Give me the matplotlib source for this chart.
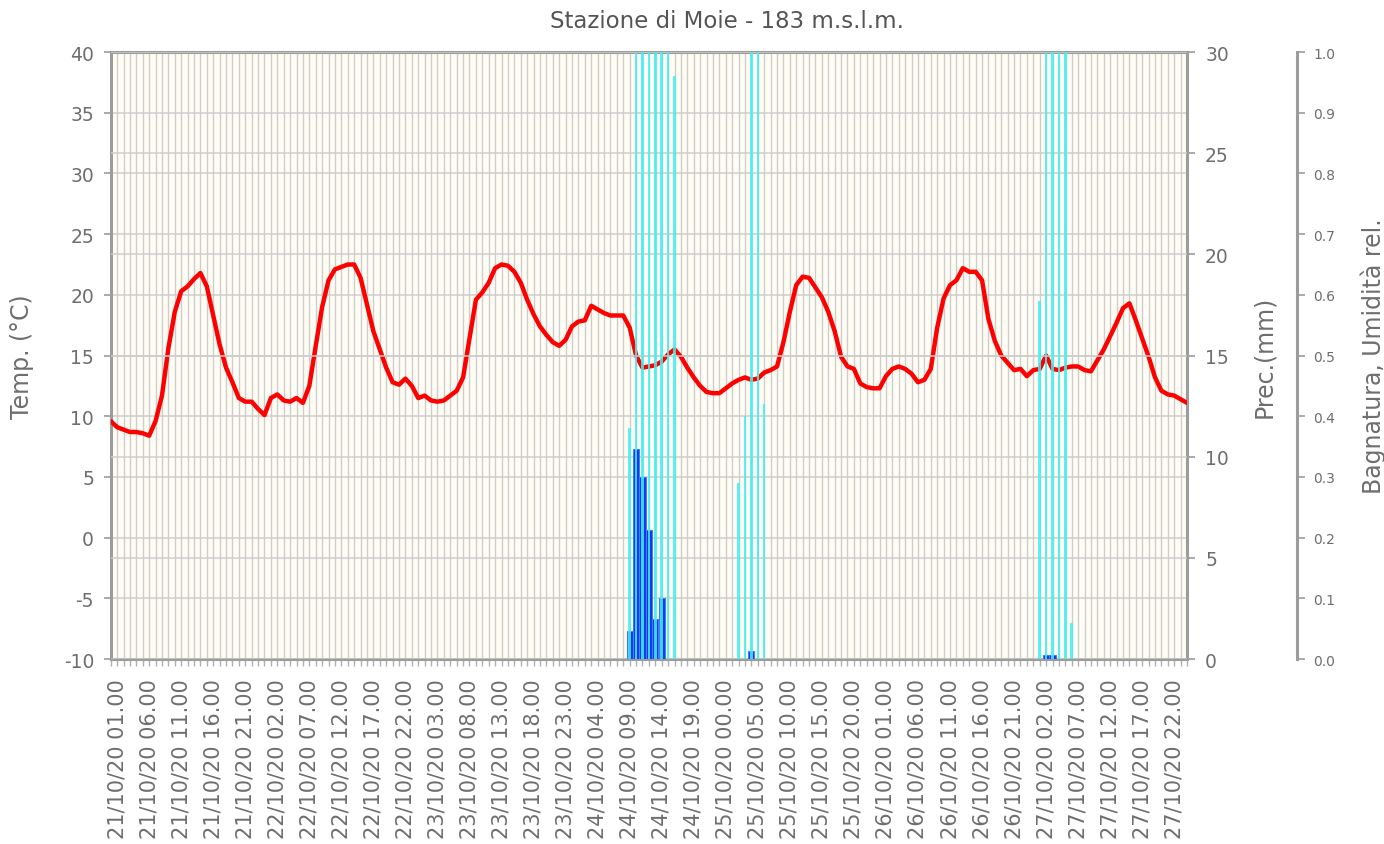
import numpy as np
import matplotlib
matplotlib.use("Agg")
import matplotlib.pyplot as plt
from matplotlib.ticker import MultipleLocator, FormatStrFormatter

plt.rcParams['axes.unicode_minus'] = False

# hourly temperature, 21/10/20 00.00 -> 28/10/20 00.00
temp = [9.6, 9.1, 8.9, 8.7, 8.7, 8.6, 8.4, 9.6, 11.7, 15.6,
        18.6, 20.3, 20.7, 21.3, 21.8, 20.7, 18.3, 15.9, 14.0, 12.8,
        11.5, 11.2, 11.2, 10.6, 10.1, 11.5, 11.8, 11.3, 11.2, 11.5,
        11.1, 12.5, 15.8, 19.0, 21.2, 22.1, 22.3, 22.5, 22.5, 21.4,
        19.2, 17.0, 15.5, 14.0, 12.8, 12.6, 13.1, 12.5, 11.5, 11.7,
        11.3, 11.2, 11.3, 11.7, 12.1, 13.2, 16.4, 19.6, 20.2, 21.0,
        22.2, 22.5, 22.4, 21.9, 21.0, 19.6, 18.4, 17.4, 16.7, 16.1,
        15.8, 16.3, 17.4, 17.8, 17.9, 19.1, 18.8, 18.5, 18.3, 18.3,
        18.3, 17.3, 15.0, 14.0, 14.1, 14.2, 14.5, 15.1, 15.5, 14.9,
        14.0, 13.2, 12.5, 12.0, 11.9, 11.9, 12.3, 12.7, 13.0, 13.2,
        13.0, 13.1, 13.6, 13.8, 14.1, 16.1, 18.6, 20.8, 21.5, 21.4,
        20.6, 19.8, 18.6, 17.0, 14.9, 14.1, 13.9, 12.7, 12.4, 12.3,
        12.3, 13.3, 13.9, 14.1, 13.9, 13.5, 12.8, 13.0, 13.9, 17.3,
        19.7, 20.8, 21.2, 22.2, 21.9, 21.9, 21.2, 18.0, 16.2, 15.0,
        14.4, 13.8, 13.9, 13.3, 13.8, 13.9, 15.0, 13.9, 13.8, 14.0,
        14.1, 14.1, 13.8, 13.7, 14.6, 15.5, 16.6, 17.7, 18.9, 19.3,
        17.9, 16.4, 14.9, 13.2, 12.1, 11.8, 11.7, 11.4, 11.1]
hours = np.arange(len(temp))

tick_hours = list(range(1, 167, 5))
tick_labels = ["21/10/20 01.00", "21/10/20 06.00", "21/10/20 11.00", "21/10/20 16.00",
               "21/10/20 21.00", "22/10/20 02.00", "22/10/20 07.00", "22/10/20 12.00",
               "22/10/20 17.00", "22/10/20 22.00", "23/10/20 03.00", "23/10/20 08.00",
               "23/10/20 13.00", "23/10/20 18.00", "23/10/20 23.00", "24/10/20 04.00",
               "24/10/20 09.00", "24/10/20 14.00", "24/10/20 19.00", "25/10/20 00.00",
               "25/10/20 05.00", "25/10/20 10.00", "25/10/20 15.00", "25/10/20 20.00",
               "26/10/20 01.00", "26/10/20 06.00", "26/10/20 11.00", "26/10/20 16.00",
               "26/10/20 21.00", "27/10/20 02.00", "27/10/20 07.00", "27/10/20 12.00",
               "27/10/20 17.00", "27/10/20 22.00"]

# precipitation (mm)
prec_hours = [81, 82, 83, 84, 85, 86, 100, 146, 147]
prec_mm = [1.4, 10.4, 9.0, 6.4, 2.0, 3.0, 0.4, 0.2, 0.2]

# leaf wetness / rel. humidity (0-1)
wet_hours = [81, 82, 83, 84, 85, 86, 87, 88,
             98, 99, 100, 101, 102,
             145, 146, 147, 148, 149, 150]
wet = [0.38, 1.0, 1.0, 1.0, 1.0, 1.0, 1.0, 0.96,
       0.29, 0.40, 1.0, 1.0, 0.42,
       0.59, 1.0, 1.0, 1.0, 1.0, 0.06]

grey = '#6e6e6e'
spine_c = '#9c9c9c'
grid_c = '#cdcdcd'

fig = plt.figure(figsize=(13.84, 8.45), dpi=100)
ax = fig.add_axes([0.08, 0.2189, 0.7777, 0.7183])
ax.set_facecolor('#fffdf3')
ax.plot(hours, temp, color='#ff0000', lw=3.2, solid_joinstyle='round',
        solid_capstyle='round', zorder=3)
ax.set_xlim(0, 168)
ax.set_ylim(-10, 40)
ax.yaxis.set_major_locator(MultipleLocator(5))
ax.set_xticks(tick_hours)
ax.set_xticklabels(tick_labels, rotation=90, fontsize=15, color=grey)
ax.xaxis.set_minor_locator(MultipleLocator(1))
ax.set_axisbelow(True)
ax.grid(True, which='both', axis='x', color=grid_c, lw=1.0)
ax.grid(True, which='major', axis='y', color=grid_c, lw=1.1)
for s in ax.spines.values():
    s.set_color(spine_c)
    s.set_linewidth(2.2)
ax.tick_params(axis='y', direction='out', length=5, width=1.2, color=spine_c,
               labelsize=13.5, labelcolor=grey, pad=7)
ax.tick_params(axis='x', which='both', direction='out', length=5, width=1,
               color='#b0b0b0', pad=9)
ax.set_ylabel('Temp. (°C)', fontsize=17, color=grey)
ax.yaxis.set_label_coords(-0.071, 0.5)

# precipitation axis
ax2 = ax.twinx()
ax2.bar(prec_hours, prec_mm, width=0.95, color='#1238f0', edgecolor='#4f72ff',
        lw=0.8, zorder=2)
ax2.set_ylim(0, 30)
ax2.yaxis.set_major_locator(MultipleLocator(5))
ax2.set_axisbelow(True)
ax2.grid(True, axis='y', color=grid_c, lw=1.1)
for s in ax2.spines.values():
    s.set_visible(False)
ax2.tick_params(axis='y', direction='out', length=6, width=1.2, color=spine_c,
                labelsize=13.5, labelcolor=grey, pad=7)
ax2.set_ylabel('Prec.(mm)', fontsize=17, color=grey)
ax2.yaxis.set_label_coords(1.06, 0.5)

# wetness axis
ax3 = ax.twinx()
ax3.bar(wet_hours, wet, width=0.4, color='#3ef2f2', alpha=0.85, zorder=4)
ax3.set_ylim(0, 1)
ax3.yaxis.set_major_locator(MultipleLocator(0.1))
ax3.yaxis.set_major_formatter(FormatStrFormatter('%.1f'))
for name, s in ax3.spines.items():
    s.set_visible(name == 'right')
ax3.spines['right'].set_position(('axes', 1.102))
ax3.spines['right'].set_color(spine_c)
ax3.spines['right'].set_linewidth(2.2)
ax3.tick_params(axis='y', direction='out', length=6, width=1.2, color=spine_c,
                labelsize=10, labelcolor=grey, pad=6)
ax3.set_ylabel('Bagnatura, Umidità rel.', fontsize=17, color=grey)
ax3.yaxis.set_label_coords(1.161, 0.5)

fig.text(0.525, 0.974, 'Stazione di Moie - 183 m.s.l.m.', ha='center', va='center',
         fontsize=16.5, color='#555555')

fig.savefig('out.png', dpi=100)
